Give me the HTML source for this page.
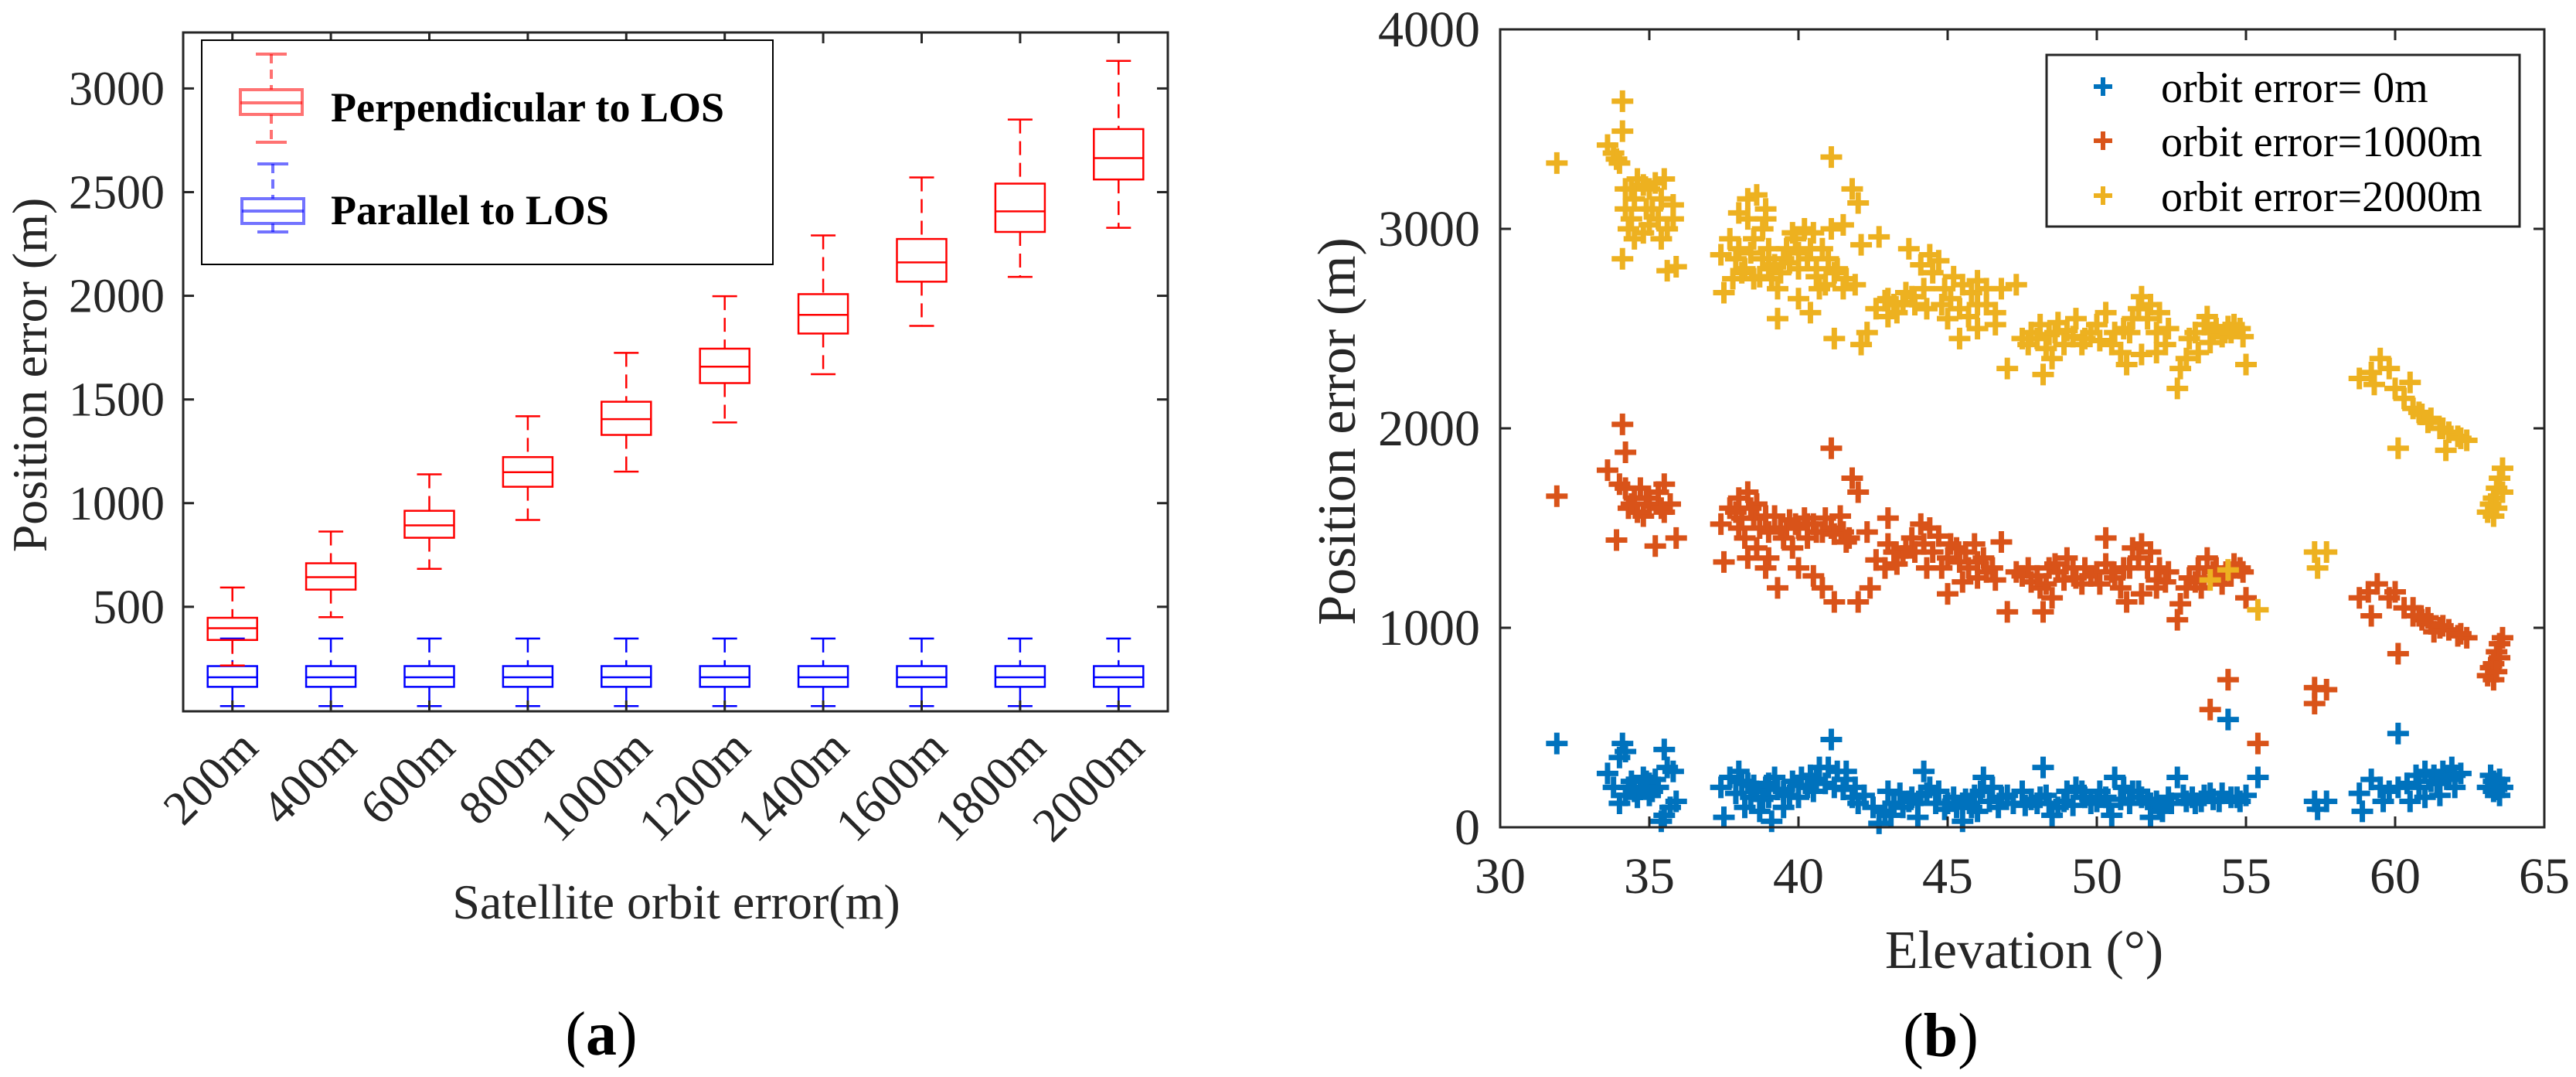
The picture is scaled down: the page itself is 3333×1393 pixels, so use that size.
<!DOCTYPE html>
<html><head><meta charset="utf-8"><style>
html,body{margin:0;padding:0;background:#fff;}
svg{display:block;}
svg text{font-family:"Liberation Serif","DejaVu Serif",serif;}
</style></head><body>
<svg id="fig" width="3333" height="1393" viewBox="0 0 3333 1393" xmlns="http://www.w3.org/2000/svg" font-family="Liberation Serif, serif">
<rect x="0" y="0" width="3333" height="1393" fill="#fff"/>
<g id="pa"></g>
<g id="pb"></g>
</svg>
<script>
// ---------- Panel (a) data ----------
const boxCategories = ["200m","400m","600m","800m","1000m","1200m","1400m","1600m","1800m","2000m"];
const perpWhiskLow = [217,450,683,919,1152,1389,1622,1855,2091,2328];
const perpQ1 = [340,583,833,1079,1329,1579,1818,2068,2308,2561];
const perpMedian = [397,643,893,1149,1405,1658,1908,2161,2407,2664];
const perpQ3 = [447,710,963,1222,1489,1745,2008,2274,2541,2804];
const perpWhiskHigh = [593,863,1139,1419,1725,1998,2291,2571,2850,3133];
const paraWhiskLow = [21,21,21,21,21,21,21,21,21,21];
const paraQ1 = [114,114,114,114,114,114,114,114,114,114];
const paraMedian = [160,160,160,160,160,160,160,160,160,160];
const paraQ3 = [214,214,214,214,214,214,214,214,214,214];
const paraWhiskHigh = [347,347,347,347,347,347,347,347,347,347];
const aYTicks = [500,1000,1500,2000,2500,3000];

// ---------- Panel (b) data ----------
const xTicksB = [30,35,40,45,50,55,60,65];
const yTicksB = [0,1000,2000,3000,4000];
const blueElev = [31.9,33.6,34,34.1,34.2,33.8,34.3,34.5,34.8,35,35.2,35.5,35.6,35.8,34,34.6,35.1,35.7,35.9,35.4,35.5,34.9,
37.4,37.5,37.7,38,38.3,38.6,38.9,39.2,39.5,39.8,40.1,40.4,40.7,41,41.3,41.6,41.9,42.2,38.2,38.7,39.1,39.5,40,41.1,41.6,38.4,40.5,39,
42.5,42.7,42.9,43.2,43.5,43.8,44.1,44.4,44.7,45,45.3,45.6,45.9,46.2,46.5,46.8,44.2,45.5,43,44,46,47.2,47.5,
47.8,48.1,48.2,48.4,48.7,49,49.3,49.6,50,50.3,50.6,50.9,51.2,51.5,51.8,52.1,52.4,52.7,53,53.3,53.6,53.9,54.2,54.5,54.8,55,55.4,54.4,48.5,50.5,51.8,52.2,
57.3,57.7,57.4,58.8,58.9,59.2,59.5,59.8,60.1,60.1,60.4,60.7,61,61.3,61.6,61.9,62.2,60.5,61,61.5,62,59.6,
63.1,63.2,63.3,63.4,63.5,63.6,63.5];
const blueErr = [420,270,350,420,380,200,200,180,250,220,240,390,300,280,120,150,180,100,130,30,60,230,
200,50,250,280,220,180,200,250,180,230,250,260,300,300,280,240,200,160,100,80,30,100,150,440,280,150,180,150,
100,20,80,120,100,150,160,200,180,120,100,140,160,250,200,150,280,30,180,50,80,120,180,
140,150,300,120,100,180,200,150,130,150,250,200,180,150,120,100,150,250,130,120,160,140,170,150,130,160,250,540,60,60,50,80,
130,130,90,170,80,240,200,180,470,200,220,260,280,260,280,300,270,130,150,160,200,130,
200,260,180,220,240,200,160];
const blueElevDense = [37.9,38.1,38.5,38.8,39.0,39.3,39.7,40.0,40.3,40.6,40.9,41.2,41.5,41.8,42.0,43.1,43.4,43.7,44.0,44.3,44.6,44.9,45.2,45.5,45.8,46.1,46.4,46.7,47.0,47.6,48.0,48.3,48.9,49.2,49.5,49.8,50.1,50.4,50.8,51.1,51.4,51.7,52.0,52.5,52.9,53.2,53.5,53.8,54.1,54.7,34.4,34.7,35.0,35.3,34.2,60.8,61.2,61.8,62.0,61.4,63.3,63.4];
const blueErrDense = [170,230,210,140,220,190,160,210,200,240,220,200,190,150,120,60,170,130,120,170,120,90,150,120,100,180,130,100,160,110,120,160,130,110,180,120,180,110,140,120,180,140,130,120,160,150,130,170,130,150,230,190,160,200,160,200,230,240,260,220,230,190];
const orangeElev = [31.9,33.6,34,34.1,34.2,34.3,34.5,34.7,35,35.3,35.5,35.7,34.8,33.9,35.2,35.9,34.6,35.5,
37.4,37.5,37.7,38,38.3,38.6,38.9,38.2,38.6,39,39.3,39.6,39.9,40.2,40.5,40.8,41.1,41.4,41.7,40,40.5,40.8,41.2,41.1,41.8,42,42,42.3,42.4,38.5,39.5,40.3,41.5,38,
42.6,42.9,43.2,43.5,43.8,44.1,44.4,44.7,45,45.3,45.6,45.9,46.2,46.5,45,45.5,43,44.3,46.8,47,47.3,46,
47.5,47.8,48.1,48.4,48.7,49,48.2,48.5,49.3,49.6,50,50.3,50.6,50.9,51.2,51.5,51.8,52.1,51,51.5,52,52.4,52.7,52.8,53.1,53.4,53.7,54,54.3,54.6,54.9,55,50.3,53.5,
53.8,54.4,55.4,57.3,57.3,57.7,
58.8,59.1,59.4,59.8,60,60.3,60.6,60.9,61.2,61.5,61.8,62.1,62.4,60.1,59.2,60.6,61.3,
63.1,63.2,63.3,63.4,63.5,63.6,63.5];
const orangeErr = [1660,1790,1720,2020,1880,1600,1650,1700,1620,1680,1720,1620,1560,1440,1410,1450,1580,1580,
1520,1330,1600,1650,1680,1620,1560,1450,1400,1350,1200,1500,1520,1550,1520,1480,1500,1560,1450,1300,1260,1200,1130,1900,1750,1680,1130,1480,1200,1550,1450,1450,1480,1500,
1340,1300,1380,1360,1450,1520,1500,1460,1350,1400,1380,1420,1350,1300,1170,1230,1550,1300,1430,1080,1280,1250,
1260,1230,1200,1300,1280,1350,1080,1150,1250,1300,1280,1320,1250,1300,1400,1420,1380,1300,1130,1170,1200,1280,1040,1120,1250,1300,1350,1300,1260,1320,1280,1150,1450,1200,
590,740,420,700,620,690,
1150,1180,1220,1150,1180,1100,1060,1040,1020,1000,990,960,950,870,1060,1100,980,
760,800,740,880,920,950,850];
const orangeElevDense = [37.9,38.1,38.4,38.7,39.0,39.2,39.4,39.7,40.0,40.3,40.6,40.9,41.2,41.6,38.3,38.9,39.8,43.3,43.6,43.9,44.2,44.5,44.8,45.1,45.4,45.7,46.0,46.3,46.6,43.0,47.7,48.0,48.3,48.6,48.9,49.2,49.5,49.8,50.1,50.5,50.8,51.1,51.4,51.7,52.0,52.3,53.0,53.3,53.6,53.9,54.2,54.5,54.8,34.4,34.9,35.4,34.2,60.8,61.1,61.6,62.2,63.3,63.4];
const orangeErrDense = [1580,1550,1600,1500,1480,1560,1500,1540,1500,1520,1480,1550,1470,1430,1350,1300,1400,1320,1400,1380,1420,1380,1300,1420,1330,1300,1330,1280,1240,1420,1300,1260,1220,1320,1240,1300,1220,1260,1220,1280,1200,1300,1350,1300,1240,1230,1200,1230,1250,1280,1220,1260,1300,1620,1650,1600,1700,1060,1050,1010,970,820,780];
const yellowElev = [31.9,33.6,33.8,33.9,34,34.1,34.1,
34.2,34.4,34.6,34.8,35,35.2,35.5,34.3,34.5,34.8,35,35.3,35.6,35.8,34.1,35.4,35.6,35.9,34.5,35.1,35.8,
37.4,37.5,37.7,38,38.3,38.6,38.9,38.2,38.5,38.8,39.1,39.3,39.6,39.9,40.2,40.5,40.8,41,41.3,41.6,41.9,39.3,40,40.4,40.7,41.1,41.5,41.2,42.1,42.3,41.1,41.8,42,42.1,38,38.5,39,39.5,40,40.6,37.8,38.8,
42.6,42.9,43.2,43.5,43.8,44.1,44.4,44.7,44.3,44.9,45.2,45.5,45.8,46,46.3,46.6,45,45.4,46,43,43.7,42.7,46.8,47,47.3,
47.5,47.8,48.1,48.4,48.7,49,48.2,48.5,49.3,49.6,50,50.3,50.6,50.9,51.2,51.5,51.8,52.1,51,51.5,52,52.4,52.7,52.8,53.1,53.4,53.7,54,54.3,54.6,54.9,55,53.8,54.4,
53.8,54.4,55.4,57.3,57.4,57.7,
58.8,59.2,59.5,59.8,60,60.3,60.6,60.9,61.2,61.5,61.8,62.1,62.4,60.1,59.3,60.5,61.7,
63.1,63.2,63.3,63.4,63.5,63.6,63.6];
const yellowErr = [3330,3420,3380,3350,3330,3640,3490,
3100,3200,3250,3220,3200,3230,3250,3000,2950,2980,3020,3050,3000,3050,2850,2950,2790,2810,3150,3100,3120,
2870,2680,2950,3080,3150,3170,3100,2800,2750,2850,2750,2700,2900,2950,3000,2980,2900,2850,2800,2750,2720,2550,2650,2580,2700,3000,3020,2450,2420,2480,3360,3200,3130,2920,2900,2950,2800,2850,2800,2800,2750,3000,
2600,2640,2620,2630,2660,2820,2870,2840,2600,2700,2760,2720,2680,2740,2620,2580,2550,2450,2500,2560,2900,2960,2700,2300,2720,
2450,2480,2520,2470,2530,2490,2270,2350,2550,2450,2520,2580,2480,2500,2550,2660,2620,2580,2320,2370,2380,2500,2200,2300,2450,2380,2560,2500,2480,2520,2460,2320,2430,2510,
1240,1290,1090,1380,1300,1380,
2250,2280,2350,2300,2200,2150,2100,2070,2050,2000,1980,1960,1940,1900,2220,2230,1890,
1580,1620,1560,1700,1750,1800,1680];
const yellowElevDense = [37.9,38.1,38.4,38.7,39.0,39.2,39.4,39.7,40.0,40.3,40.6,40.9,41.2,41.5,38.3,38.9,39.8,40.4,43.3,43.6,43.9,44.2,44.5,44.8,45.1,45.4,45.7,46.0,46.3,46.6,43.0,47.7,48.0,48.3,48.6,48.9,49.2,49.5,49.8,50.1,50.5,50.8,51.1,51.4,51.7,52.0,52.3,53.0,53.3,53.6,53.9,54.2,54.5,54.8,34.4,34.9,35.4,34.2,60.8,61.1,61.6,62.2,63.3,63.4];
const yellowErrDense = [2850,2780,2880,2760,2900,2820,2780,2830,2880,2850,2760,2720,2780,2700,3050,3050,2980,2900,2580,2680,2620,2700,2780,2620,2650,2600,2560,2620,2700,2520,2650,2420,2450,2400,2480,2420,2460,2420,2480,2440,2420,2380,2480,2600,2550,2480,2420,2350,2480,2520,2480,2460,2480,2500,3050,3100,3150,3200,2080,2030,2000,1950,1650,1600];

const NS="http://www.w3.org/2000/svg";
const FONT='"Liberation Serif","DejaVu Serif",serif';
function mk(parent, tag, attrs, text){
  const e=document.createElementNS(NS,tag);
  for(const k in attrs) e.setAttribute(k,attrs[k]);
  if(tag==='text') e.setAttribute('font-family',FONT);
  if(text!==undefined) e.textContent=text;
  parent.appendChild(e); return e;
}
const AX="#262626";

// ================= Panel (a) =================
const pa=document.getElementById('pa');
const aL=237,aR=1511,aT=42,aB=920;
const aYmin=-4,aYmax=3270;
const ay=v=>aB-(v-aYmin)/(aYmax-aYmin)*(aB-aT);
const ax=i=>aL+(i+0.5)*(aR-aL)/boxCategories.length;
const hw=32;

function drawBox(g,i,lo,q1,med,q3,hi,color,name){
  const x=ax(i);
  const grp=mk(g,'g',{});
  
  
  mk(grp,'line',{x1:x,x2:x,y1:ay(hi),y2:ay(q3),stroke:color,'stroke-width':2.5,'stroke-dasharray':'18,10'});
  mk(grp,'line',{x1:x,x2:x,y1:ay(q1),y2:ay(lo),stroke:color,'stroke-width':2.5,'stroke-dasharray':'18,10'});
  mk(grp,'line',{x1:x-16,x2:x+16,y1:ay(hi),y2:ay(hi),stroke:color,'stroke-width':2.5});
  mk(grp,'line',{x1:x-16,x2:x+16,y1:ay(lo),y2:ay(lo),stroke:color,'stroke-width':2.5});
  mk(grp,'rect',{x:x-hw,y:ay(q3),width:2*hw,height:ay(q1)-ay(q3),fill:'none',stroke:color,'stroke-width':2.5});
  mk(grp,'line',{x1:x-hw,x2:x+hw,y1:ay(med),y2:ay(med),stroke:color,'stroke-width':2.5});
}
const boxesA=mk(pa,'g',{});


for(let i=0;i<boxCategories.length;i++){
  drawBox(boxesA,i,paraWhiskLow[i],paraQ1[i],paraMedian[i],paraQ3[i],paraWhiskHigh[i],'#0000ff','parallel-box');
  drawBox(boxesA,i,perpWhiskLow[i],perpQ1[i],perpMedian[i],perpQ3[i],perpWhiskHigh[i],'#ff0000','perpendicular-box');
}
const frA=mk(pa,'rect',{x:aL,y:aT,width:aR-aL,height:aB-aT,fill:'none',stroke:AX,'stroke-width':3});


aYTicks.forEach(v=>{
  const y=ay(v);
  mk(pa,'line',{x1:aL,x2:aL+14,y1:y,y2:y,stroke:AX,'stroke-width':3});
  mk(pa,'line',{x1:aR,x2:aR-14,y1:y,y2:y,stroke:AX,'stroke-width':3});
  const t=mk(pa,'text',{x:213,y:y+21,'text-anchor':'end','font-size':62,fill:AX},String(v));
  
  
});
boxCategories.forEach((c,i)=>{
  const x=ax(i);
  mk(pa,'line',{x1:x,x2:x,y1:aB,y2:aB-14,stroke:AX,'stroke-width':3});
  mk(pa,'line',{x1:x,x2:x,y1:aT,y2:aT+14,stroke:AX,'stroke-width':3});
  const t=mk(pa,'text',{x:0,y:0,'text-anchor':'end','font-size':62,fill:AX,transform:`translate(${x+36},${aB+50}) rotate(-45)`},c);
  
  
});
let t;
t=mk(pa,'text',{x:0,y:0,'text-anchor':'middle','font-size':64,fill:AX,transform:'translate(60,485) rotate(-90)'},'Position error (m)');


t=mk(pa,'text',{x:875,y:1188,'text-anchor':'middle','font-size':64,fill:AX},'Satellite orbit error(m)');


t=mk(pa,'text',{x:778,y:1364,'text-anchor':'middle','font-size':80,fill:'#000'});
t.innerHTML='(<tspan font-weight="bold">a</tspan>)';


const lgA=mk(pa,'g',{});


mk(lgA,'rect',{x:261,y:52,width:739,height:290,fill:'#fff',stroke:'#000','stroke-width':2});
function legIcon(cx,top,bt,q3,q1,med,color){
  mk(lgA,'line',{x1:cx,x2:cx,y1:top,y2:q3,stroke:color,'stroke-width':4,'stroke-dasharray':'12,8',opacity:0.55});
  mk(lgA,'line',{x1:cx,x2:cx,y1:q1,y2:bt,stroke:color,'stroke-width':4,'stroke-dasharray':'12,8',opacity:0.55});
  mk(lgA,'line',{x1:cx-20,x2:cx+20,y1:top,y2:top,stroke:color,'stroke-width':4,opacity:0.55});
  mk(lgA,'line',{x1:cx-20,x2:cx+20,y1:bt,y2:bt,stroke:color,'stroke-width':4,opacity:0.55});
  mk(lgA,'rect',{x:cx-40,y:q3,width:80,height:q1-q3,fill:'none',stroke:color,'stroke-width':4,opacity:0.55});
  mk(lgA,'line',{x1:cx-40,x2:cx+40,y1:med,y2:med,stroke:color,'stroke-width':4,opacity:0.55});
}
legIcon(351,70,184,116,148,133,'#ff0000');
legIcon(353,212,300,257,289,273,'#0000ff');
t=mk(lgA,'text',{x:428,y:157,'font-size':54,'font-weight':'bold',fill:'#000'},'Perpendicular to LOS');


t=mk(lgA,'text',{x:428,y:290,'font-size':54,'font-weight':'bold',fill:'#000'},'Parallel to LOS');



// ================= Panel (b) =================
const pb=document.getElementById('pb');
const bL=1941,bR=3292,bT=38,bB=1070;
const bx=v=>bL+(v-30)/(65-30)*(bR-bL);
const by=v=>bB-v/4000*(bB-bT);
function plus(g,x,y,color,s,w){
  mk(g,'path',{d:`M${x-s},${y}H${x+s}M${x},${y-s}V${y+s}`,stroke:color,'stroke-width':w,fill:'none'});
}
const series=[
  [blueElev.concat(blueElevDense),blueErr.concat(blueErrDense),'#0072BD','series-orbit-0m'],
  [orangeElev.concat(orangeElevDense),orangeErr.concat(orangeErrDense),'#D95319','series-orbit-1000m'],
  [yellowElev.concat(yellowElevDense),yellowErr.concat(yellowErrDense),'#EDB120','series-orbit-2000m']];
series.forEach(s=>{
  const g=mk(pb,'g',{});
  
  
  for(let i=0;i<s[0].length;i++) plus(g,bx(s[0][i]),by(s[1][i]),s[2],14,7);
});
const frB=mk(pb,'rect',{x:bL,y:bT,width:bR-bL,height:bB-bT,fill:'none',stroke:AX,'stroke-width':3});


xTicksB.forEach(v=>{
  const x=bx(v);
  mk(pb,'line',{x1:x,x2:x,y1:bB,y2:bB-14,stroke:AX,'stroke-width':3});
  mk(pb,'line',{x1:x,x2:x,y1:bT,y2:bT+14,stroke:AX,'stroke-width':3});
  const tt=mk(pb,'text',{x:x,y:1155,'text-anchor':'middle','font-size':66,fill:AX},String(v));
  
  
});
yTicksB.forEach(v=>{
  const y=by(v);
  mk(pb,'line',{x1:bL,x2:bL+14,y1:y,y2:y,stroke:AX,'stroke-width':3});
  mk(pb,'line',{x1:bR,x2:bR-14,y1:y,y2:y,stroke:AX,'stroke-width':3});
  const tt=mk(pb,'text',{x:1915,y:y+22,'text-anchor':'end','font-size':66,fill:AX},String(v));
  
  
});
t=mk(pb,'text',{x:0,y:0,'text-anchor':'middle','font-size':70,fill:AX,transform:'translate(1753,558) rotate(-90)'},'Position error (m)');


t=mk(pb,'text',{x:2619,y:1252,'text-anchor':'middle','font-size':70,fill:AX},'Elevation (°)');


t=mk(pb,'text',{x:2511,y:1366,'text-anchor':'middle','font-size':80,fill:'#000'});
t.innerHTML='(<tspan font-weight="bold">b</tspan>)';


const lgB=mk(pb,'g',{});


mk(lgB,'rect',{x:2648,y:71,width:612,height:222,fill:'#fff',stroke:AX,'stroke-width':3});
const legLabels=['orbit error= 0m','orbit error=1000m','orbit error=2000m'];
const legY=[112,182,253];
series.forEach((s,i)=>{
  plus(lgB,2721,legY[i],s[2],12,6);
  const tt=mk(lgB,'text',{x:2796,y:legY[i]+20,'font-size':56,fill:'#000'},legLabels[i]);
  
  
});
</script>
</body></html>
